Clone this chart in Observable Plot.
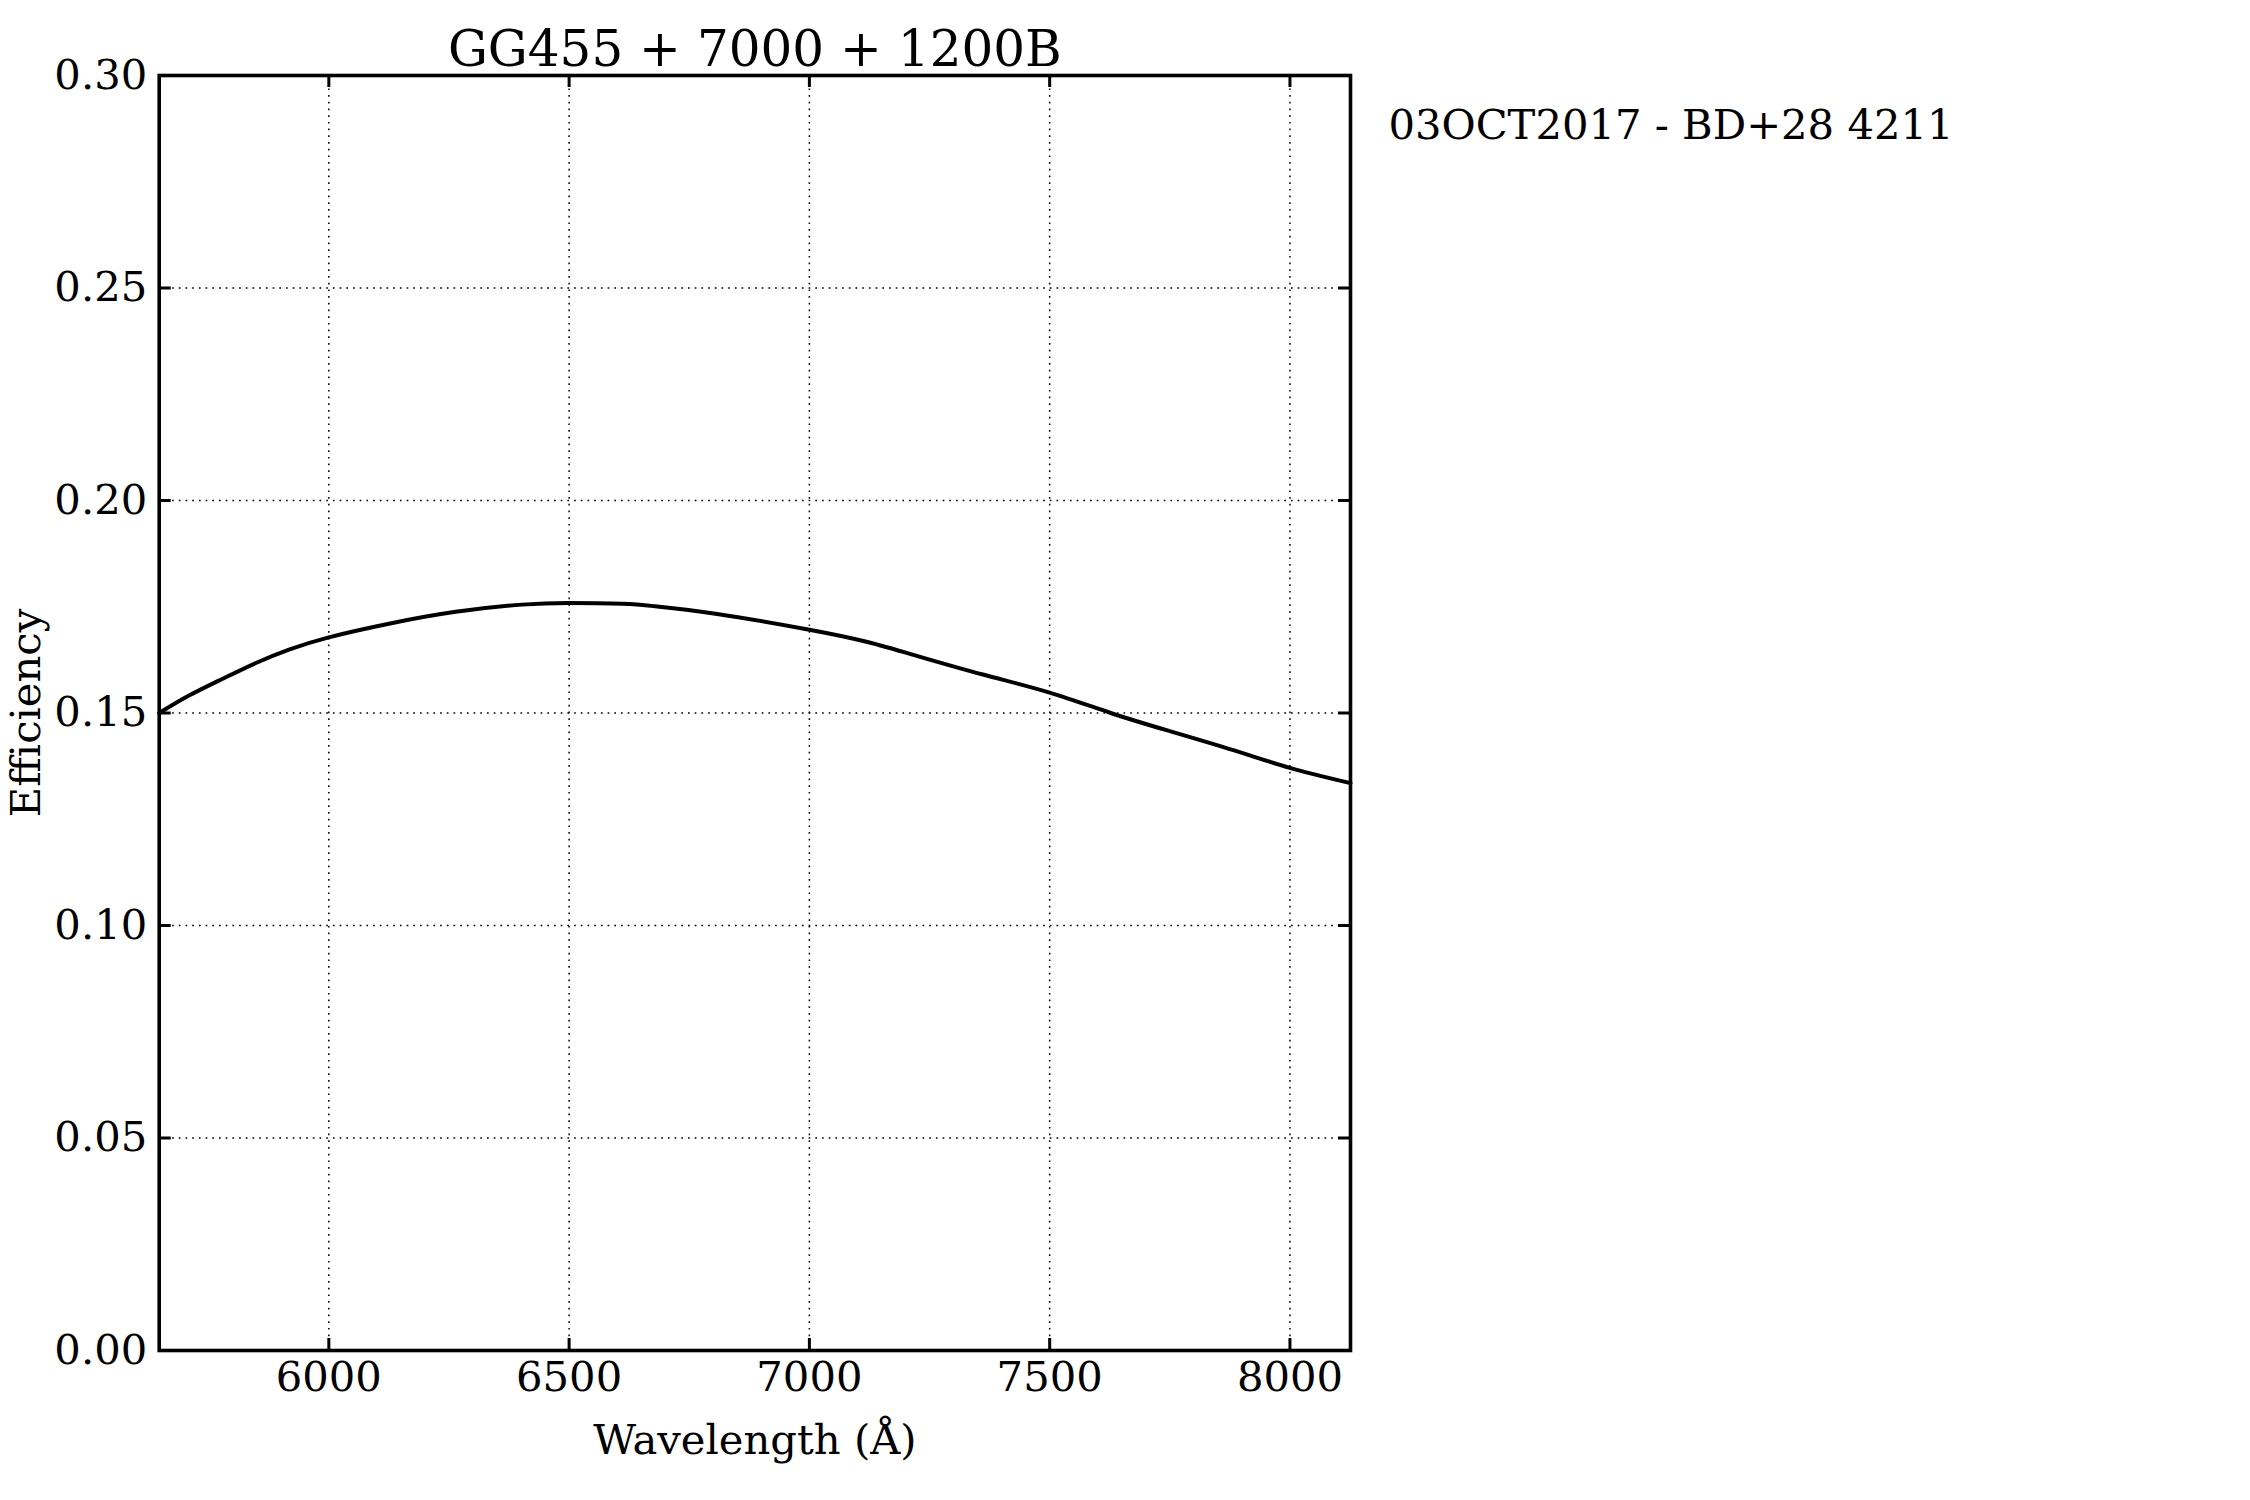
<!DOCTYPE html>
<html>
<head>
<meta charset="utf-8">
<script src="https://cdn.jsdelivr.net/npm/d3@7"></script>
<script src="https://cdn.jsdelivr.net/npm/@observablehq/plot@0.6"></script>
<style>
  html, body { margin: 0; padding: 0; background: white; }
  #chart { width: 2250px; height: 1500px; }
</style>
</head>
<body>
<div id="chart"></div>
<script>
// Data
const wavelength = [5647, 5709, 5778, 5847, 5917, 6000, 6125, 6264, 6402, 6500, 6611, 6680, 6808, 7000, 7121, 7225, 7363, 7500, 7627, 7745, 7884, 8000, 8126];
const efficiency = [0.1500, 0.1541, 0.1580, 0.1617, 0.1649, 0.1678, 0.1710, 0.1738, 0.1755, 0.1759, 0.1757, 0.1751, 0.1733, 0.1696, 0.1667, 0.1634, 0.1590, 0.1548, 0.1500, 0.1459, 0.1412, 0.1371, 0.1335];
const xTicks = [6000, 6500, 7000, 7500, 8000];
const yTicks = [0.00, 0.05, 0.10, 0.15, 0.20, 0.25, 0.30];
const xDomain = [5647, 8126];
const yDomain = [0, 0.30];
const titleText = "GG455 + 7000 + 1200B";
const noteText = "03OCT2017 - BD+28 4211";
const xLabel = "Wavelength (Å)";
const yLabel = "Efficiency";

const rows = wavelength.map((w, i) => ({w, e: efficiency[i]}));

const W = 2250, H = 1500;
const mL = 158.7, mR = 900, mT = 75, mB = 150;
const frameW = W - mL - mR, frameH = H - mT - mB;
const tickLen = 12;
const font = "DejaVu Serif";
const fs = 41.7;

const chart = Plot.plot({
  width: W,
  height: H,
  marginLeft: mL,
  marginRight: mR,
  marginTop: mT,
  marginBottom: mB,
  style: {fontFamily: font, fontSize: fs + "px", background: "white", color: "black"},
  x: {domain: xDomain},
  y: {domain: yDomain},
  marks: [
    Plot.gridX(xTicks, {stroke: "black", strokeOpacity: 1, strokeWidth: 1.5, strokeDasharray: "1.7,5"}),
    Plot.gridY(yTicks, {stroke: "black", strokeOpacity: 1, strokeWidth: 1.5, strokeDasharray: "1.7,5"}),
    Plot.line(rows, {x: "w", y: "e", stroke: "black", strokeWidth: 4, curve: "natural"}),
    // inner ticks
    Plot.tickX(xTicks, {x: d => d, insetTop: frameH - tickLen, stroke: "black", strokeWidth: 3}),
    Plot.tickX(xTicks, {x: d => d, insetBottom: frameH - tickLen, stroke: "black", strokeWidth: 3}),
    Plot.tickY(yTicks, {y: d => d, insetRight: frameW - tickLen, stroke: "black", strokeWidth: 3}),
    Plot.tickY(yTicks, {y: d => d, insetLeft: frameW - tickLen, stroke: "black", strokeWidth: 3}),
    Plot.axisX(xTicks, {anchor: "bottom", tickSize: 0, tickPadding: 11, fontSize: fs, label: null, tickFormat: d => String(d)}),
    Plot.axisY(yTicks, {anchor: "left", tickSize: 0, tickPadding: 12, fontSize: fs, label: null, tickFormat: d3.format(".2f")}),
    Plot.frame({stroke: "black", strokeWidth: 3.6}),
    Plot.text([titleText], {text: d => d, frameAnchor: "top", textAnchor: "middle", lineAnchor: "bottom", dy: -10, fontSize: 50, fill: "black"}),
    Plot.text([noteText], {text: d => d, frameAnchor: "top-right", textAnchor: "start", lineAnchor: "bottom", dx: 38, dy: 63, fontSize: fs, fill: "black"}),
    Plot.text([xLabel], {text: d => d, frameAnchor: "bottom", textAnchor: "middle", lineAnchor: "bottom", dy: 103, fontSize: fs, fill: "black"}),
    Plot.text([yLabel], {text: d => d, frameAnchor: "left", textAnchor: "middle", lineAnchor: "middle", rotate: -90, dx: -132.6, fontSize: fs, fill: "black"})
  ]
});
document.getElementById("chart").appendChild(chart);
</script>
</body>
</html>
